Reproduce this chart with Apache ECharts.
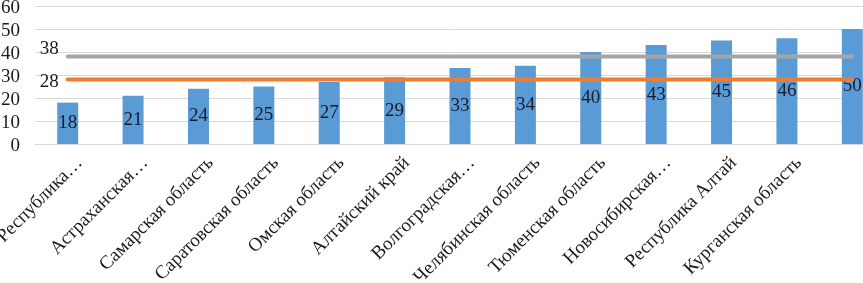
<!DOCTYPE html>
<html lang="ru">
<head>
    <meta charset="UTF-8">
    <title>Регионы</title>
    <script src="https://cdn.jsdelivr.net/npm/echarts@6/dist/echarts.min.js"></script>
</head>
<body style="margin:0">
    <div id="echarts" style="height: 283px;width:863px"></div>
<script>
    // данные
    const regions = [
      'Республика…', 'Астраханская…', 'Самарская область', 'Саратовская область',
      'Омская область', 'Алтайский край', 'Волгоградская…', 'Челябинская область',
      'Тюменская область', 'Новосибирская…', 'Республика Алтай', 'Курганская область', ''
    ];
    const barValues = [18, 21, 24, 25, 27, 29, 33, 34, 40, 43, 45, 46, 50];
    const upperLevel = 38; // серая линия
    const lowerLevel = 28; // оранжевая линия
    const yTicks = { min: 0, max: 60, step: 10 };

    const font = '"Liberation Serif", "Times New Roman", serif';
    const flat = v => regions.map(() => v);
    // подпись только у первой точки линии
    const firstOnly = p => (p.dataIndex === 0 ? p.value : '');

    let myChart = echarts.init(document.getElementById('echarts'));

    let option = {
      animation: false,
      textStyle: { fontFamily: font },
      grid: { left: 35, right: -22, top: 6, bottom: 139, containLabel: false, outerBoundsMode: 'none' },
      xAxis: {
        type: 'category',
        data: regions,
        axisTick: { show: false },
        axisLine: { lineStyle: { color: '#d9d9d9', width: 1 } },
        axisLabel: {
          interval: 0,
          rotate: 45,
          margin: 4,
          verticalAlign: 'top',
          lineHeight: 34,
          fontSize: 19,
          fontFamily: font,
          color: '#1a1a1a',
        },
      },
      yAxis: {
        type: 'value',
        min: yTicks.min,
        max: yTicks.max,
        interval: yTicks.step,
        axisLine: { show: false },
        axisTick: { show: false },
        splitLine: { lineStyle: { color: '#d9d9d9', width: 1 } },
        axisLabel: {
          margin: 15,
          formatter: v => '{t|' + v + '}',
          rich: { t: { fontSize: 19, fontFamily: font, color: '#1a1a1a', padding: [5, 0, 0, 0] } },
        },
      },
      series: [
        {
          type: 'bar',
          data: barValues,
          barWidth: 21,
          itemStyle: { color: '#5b9bd5' },
          label: {
            show: true,
            position: 'inside',
            fontSize: 19,
            fontFamily: font,
            color: '#1a1a2a',
          },
          z: 2,
        },
        {
          type: 'line',
          data: flat(upperLevel),
          symbol: 'circle',
          symbolSize: 0,
          showSymbol: true,
          lineStyle: { color: '#a5a5a5', width: 4, cap: 'round' },
          label: {
            show: true, position: 'left', distance: 9, offset: [0, -8],
            fontSize: 19, fontFamily: font, color: '#1a1a1a', formatter: firstOnly,
          },
          z: 3,
        },
        {
          type: 'line',
          data: flat(lowerLevel),
          symbol: 'circle',
          symbolSize: 0,
          showSymbol: true,
          lineStyle: { color: '#ed7d31', width: 4, cap: 'round' },
          label: {
            show: true, position: 'left', distance: 9, offset: [0, 2],
            fontSize: 19, fontFamily: font, color: '#1a1a1a', formatter: firstOnly,
          },
          z: 4,
        },
      ],
    };
    myChart.setOption(option);
</script>
</body>
</html>
